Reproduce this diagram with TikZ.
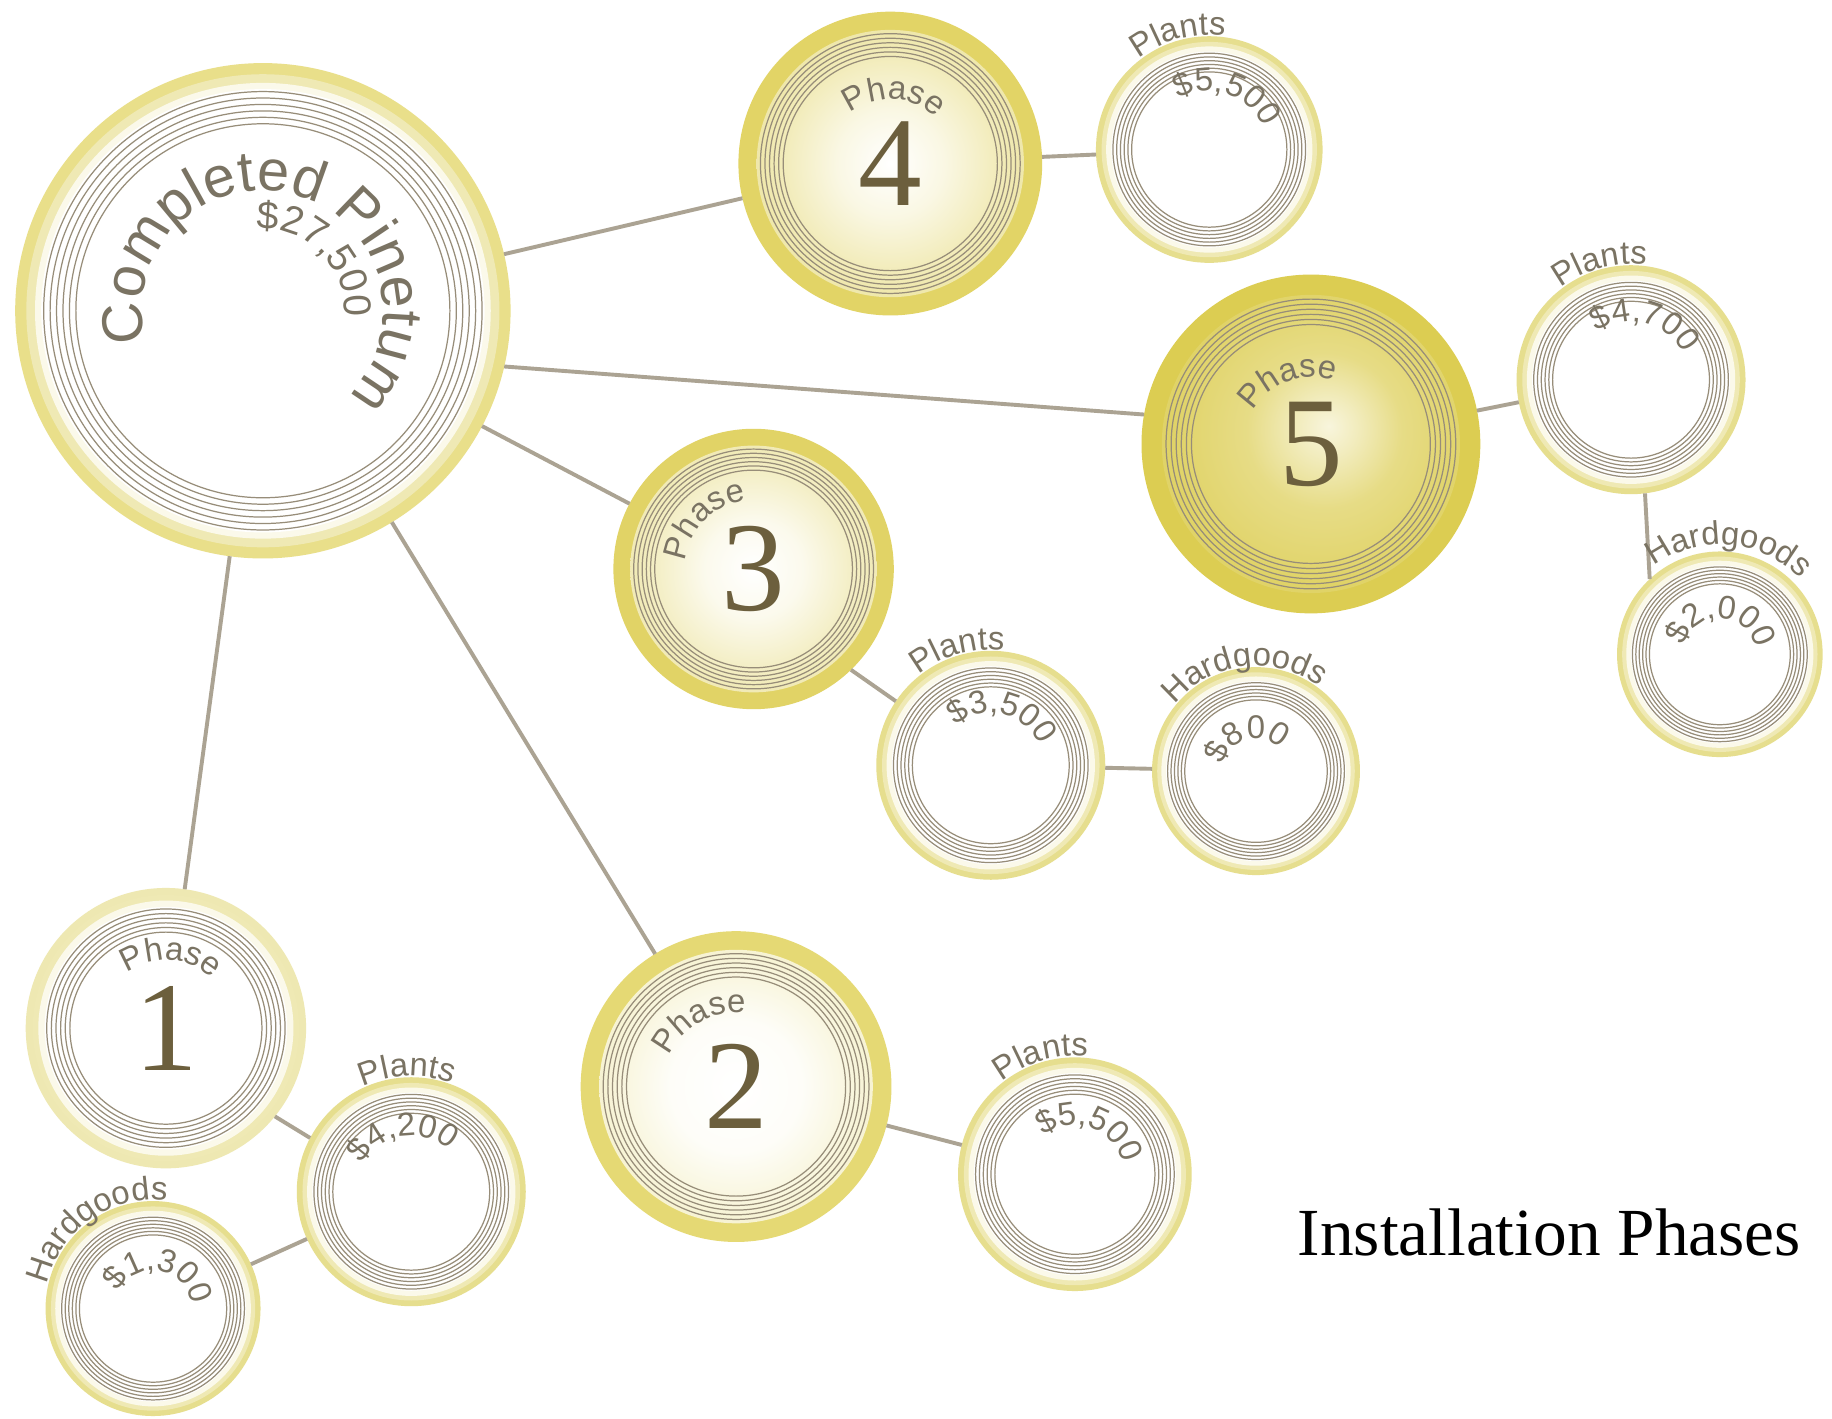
\documentclass[tikz,border=0pt]{standalone}
\usepackage{fontspec}
\setmainfont{Liberation Serif}
\newfontfamily\lblfont{Liberation Sans}

% palette
\definecolor{linkcol}{HTML}{ABA393}
\definecolor{ringcol}{HTML}{978D79}
\definecolor{labelcol}{HTML}{7A7363}
\definecolor{digitcol}{HTML}{6C5F3D}
\definecolor{bandfive}{HTML}{DCCD52}
\definecolor{bandfour}{HTML}{E2D466}
\definecolor{bandthree}{HTML}{E1D366}
\definecolor{bandtwo}{HTML}{E5D974}
\definecolor{bandone}{HTML}{EEE8B2}
\definecolor{itemband}{HTML}{E6DE8E}
\definecolor{itemsoft}{HTML}{EFE9B4}
\definecolor{itemgap}{HTML}{FBF9EA}
\definecolor{cpband}{HTML}{E9DF8A}

% inner glows of the phase discs
\pgfdeclareradialshading{glowfive}{\pgfpoint{3bp}{3bp}}{color(0bp)=(white!80!bandfive); color(5bp)=(white!62!bandfive); color(13bp)=(white!30!bandfive); color(25bp)=(white!12!bandfive); color(50bp)=(white!12!bandfive)}
\pgfdeclareradialshading{glowfour}{\pgfpoint{0bp}{0bp}}{color(0bp)=(white); color(10bp)=(white!82!bandfour); color(20bp)=(white!55!bandfour); color(25bp)=(white!45!bandfour); color(50bp)=(white!45!bandfour)}
\pgfdeclareradialshading{glowthree}{\pgfpoint{0bp}{0bp}}{color(0bp)=(white); color(10bp)=(white!88!bandthree); color(20bp)=(white!62!bandthree); color(25bp)=(white!52!bandthree); color(50bp)=(white!52!bandthree)}
\pgfdeclareradialshading{glowtwo}{\pgfpoint{0bp}{0bp}}{color(0bp)=(white); color(12bp)=(white!95!bandtwo); color(20bp)=(white!78!bandtwo); color(25bp)=(white!68!bandtwo); color(50bp)=(white!68!bandtwo)}

% phase disc: name, centre, radius, band colour, inner shading
\newcommand\phasebubble[5]{%
  \node[hub, minimum size={#3*0.2mm}] (#1) at (#2) {};
  \fill[#4] (#1.center) circle[radius=#3];
  \shade[shading=#5] (#1.center) circle[radius={0.88*#3}];
  \foreach \k in {0,...,5}
    \draw[ringline] (#1.center) circle[radius={(0.855-0.03*\k)*#3}];
}
% white disc with a pale band: name, centre, radius, band colour
\newcommand\itembubble[4]{%
  \node[hub, minimum size={#3*0.2mm}] (#1) at (#2) {};
  \fill[#4] (#1.center) circle[radius=#3];
  \fill[itemsoft] (#1.center) circle[radius={0.95*#3}];
  \fill[itemgap] (#1.center) circle[radius={0.91*#3}];
  \fill[white] (#1.center) circle[radius={0.865*#3}];
  \foreach \k in {0,...,5}
    \draw[ringline] (#1.center) circle[radius={(0.85-0.033*\k)*#3}];
}
% letters set one by one round a disc, tops outward:
% node, baseline radius, centre angle, font size (pt), list of letter/advance (em)
\newdimen\bentacc
\newcommand\bentlabel[5]{%
  \pgfmathsetmacro\bentrad{#2*0.284528}%
  \global\bentacc=0pt
  \foreach \c/\w in {#5}{%
    \pgfmathsetmacro\bentw{\w*#4}%
    \global\advance\bentacc by \bentw pt\relax
  }%
  \edef\benttotal{\the\bentacc}%
  \global\bentacc=0pt
  \foreach \c/\w in {#5}{%
    \pgfmathsetmacro\bentw{\w*#4}%
    \pgfmathsetmacro\bentang{#3+(\benttotal/2-\the\bentacc-\bentw/2)/\bentrad*180/pi}%
    \path (#1.center) ++(\bentang:#2) node[anchor=base, inner sep=0pt, rotate=\bentang-90,
        text=labelcol, font=\lblfont\fontsize{#4}{#4}\selectfont] {\c};
    \global\advance\bentacc by \bentw pt\relax
  }%
}

\begin{document}
\begin{tikzpicture}[x=0.1mm, y=0.1mm,
  hub/.style={circle, inner sep=0pt, outer sep=0pt},
  link/.style={draw=linkcol, line width=0.95pt},
  ringline/.style={draw=ringcol, line width=0.3pt},
  digit/.style={font=\fontsize{31}{31}\selectfont, text=digitcol, inner sep=0pt},
]
\useasboundingbox (0,0) rectangle (1568,1214);
\fill[white] (0,0) rectangle (1568,1214);

% the completed pinetum
\node[hub, minimum size={212*0.2mm}] (cp) at (225,948) {};
\fill[cpband] (cp.center) circle[radius=212];
\fill[itemsoft] (cp.center) circle[radius={0.955*212}];
\fill[itemgap] (cp.center) circle[radius={0.92*212}];
\fill[white] (cp.center) circle[radius={0.895*212}];
\foreach \k in {0,...,5}
  \draw[ringline] (cp.center) circle[radius={(0.885-0.026*\k)*212}];

% phases
\phasebubble{p4}{762,1074}{130}{bandfour}{glowfour}
\phasebubble{p5}{1122,834}{145}{bandfive}{glowfive}
\phasebubble{p3}{645,727}{120}{bandthree}{glowthree}
\phasebubble{p2}{630,284}{133}{bandtwo}{glowtwo}
\itembubble{p1}{142,334}{120}{bandone}

% plants and hardgoods
\itembubble{l4}{1035,1086}{97}{itemband}
\itembubble{l5}{1396,889}{98}{itemband}
\itembubble{h5}{1472,654}{88}{itemband}
\itembubble{l3}{848,559}{98}{itemband}
\itembubble{h3}{1075,554}{89}{itemband}
\itembubble{l1}{352,194}{98}{itemband}
\itembubble{h1}{131,94}{92}{itemband}
\itembubble{l2}{920,209}{100}{itemband}

% connectors
\draw[link] (cp) -- (p4);
\draw[link] (cp.-13) -- (p5.170);
\draw[link] (cp) -- (p3);
\draw[link] (cp) -- (p2);
\draw[link] (cp) -- (p1);
\draw[link] (p4) -- (l4);
\draw[link] (p5) -- (l5);
\draw[link] (l5.-83) -- (h5.133);
\draw[link] (p3.-46) -- (l3.146);
\draw[link] (l3) -- (h3);
\draw[link] (p1.-39) -- (l1.152);
\draw[link] (l1) -- (h1);
\draw[link] (p2) -- (l2);

% digits
\node[digit] (d1) at (p1) {1};
\node[digit] (d2) at (p2) {2};
\node[digit] (d3) at (p3) {3};
\node[digit] (d4) at (p4) {4};
\node[digit] (d5) at (p5) {5};

% curved captions
\bentlabel{cp}{103}{75}{14}{C/.722,o/.556,m/.833,p/.556,l/.222,e/.556,t/.278,e/.556,d/.556,\ /.278,P/.667,i/.222,n/.556,e/.556,t/.278,u/.556,m/.833}
\bentlabel{cp}{70}{45}{9.5}{\$/.556,2/.556,7/.556,{,}/.278,5/.556,0/.556,0/.556}
\bentlabel{p1}{58}{86}{8}{P/.667,h/.556,a/.556,s/.5,e/.556}
\bentlabel{p2}{63}{119}{8}{P/.667,h/.556,a/.556,s/.5,e/.556}
\bentlabel{p3}{59}{135}{8}{P/.667,h/.556,a/.556,s/.5,e/.556}
\bentlabel{p4}{55}{87}{8}{P/.667,h/.556,a/.556,s/.5,e/.556}
\bentlabel{p5}{57}{110}{8}{P/.667,h/.556,a/.556,s/.5,e/.556}
\bentlabel{l4}{98}{105}{8}{P/.667,l/.222,a/.556,n/.556,t/.278,s/.5}
\bentlabel{l4}{50}{72}{8}{\$/.556,5/.556,{,}/.278,5/.556,0/.556,0/.556}
\bentlabel{l5}{99}{105}{8}{P/.667,l/.222,a/.556,n/.556,t/.278,s/.5}
\bentlabel{l5}{50}{76}{8}{\$/.556,4/.556,{,}/.278,7/.556,0/.556,0/.556}
\bentlabel{h5}{94}{85}{8}{H/.722,a/.556,r/.333,d/.556,g/.556,o/.556,o/.556,d/.556,s/.5}
\bentlabel{h5}{31}{88}{8}{\$/.556,2/.556,{,}/.278,0/.556,0/.556,0/.556}
\bentlabel{l3}{99}{106}{8}{P/.667,l/.222,a/.556,n/.556,t/.278,s/.5}
\bentlabel{l3}{45}{77}{8}{\$/.556,3/.556,{,}/.278,5/.556,0/.556,0/.556}
\bentlabel{h3}{90}{97}{8}{H/.722,a/.556,r/.333,d/.556,g/.556,o/.556,o/.556,d/.556,s/.5}
\bentlabel{h3}{28}{106}{8}{\$/.556,8/.556,0/.556,0/.556}
\bentlabel{l1}{99}{92}{8}{P/.667,l/.222,a/.556,n/.556,t/.278,s/.5}
\bentlabel{l1}{48}{99}{8}{\$/.556,4/.556,{,}/.278,2/.556,0/.556,0/.556}
\bentlabel{h1}{93}{125}{8}{H/.722,a/.556,r/.333,d/.556,g/.556,o/.556,o/.556,d/.556,s/.5}
\bentlabel{h1}{33}{80}{8}{\$/.556,1/.556,{,}/.278,3/.556,0/.556,0/.556}
\bentlabel{l2}{101}{106}{8}{P/.667,l/.222,a/.556,n/.556,t/.278,s/.5}
\bentlabel{l2}{42}{71}{8}{\$/.556,5/.556,{,}/.278,5/.556,0/.556,0/.556}

% title
\node[anchor=base west, inner sep=0pt, font=\fontsize{16.4}{16.4}\selectfont] (title) at (1110,139) {Installation Phases};
\end{tikzpicture}
\end{document}
